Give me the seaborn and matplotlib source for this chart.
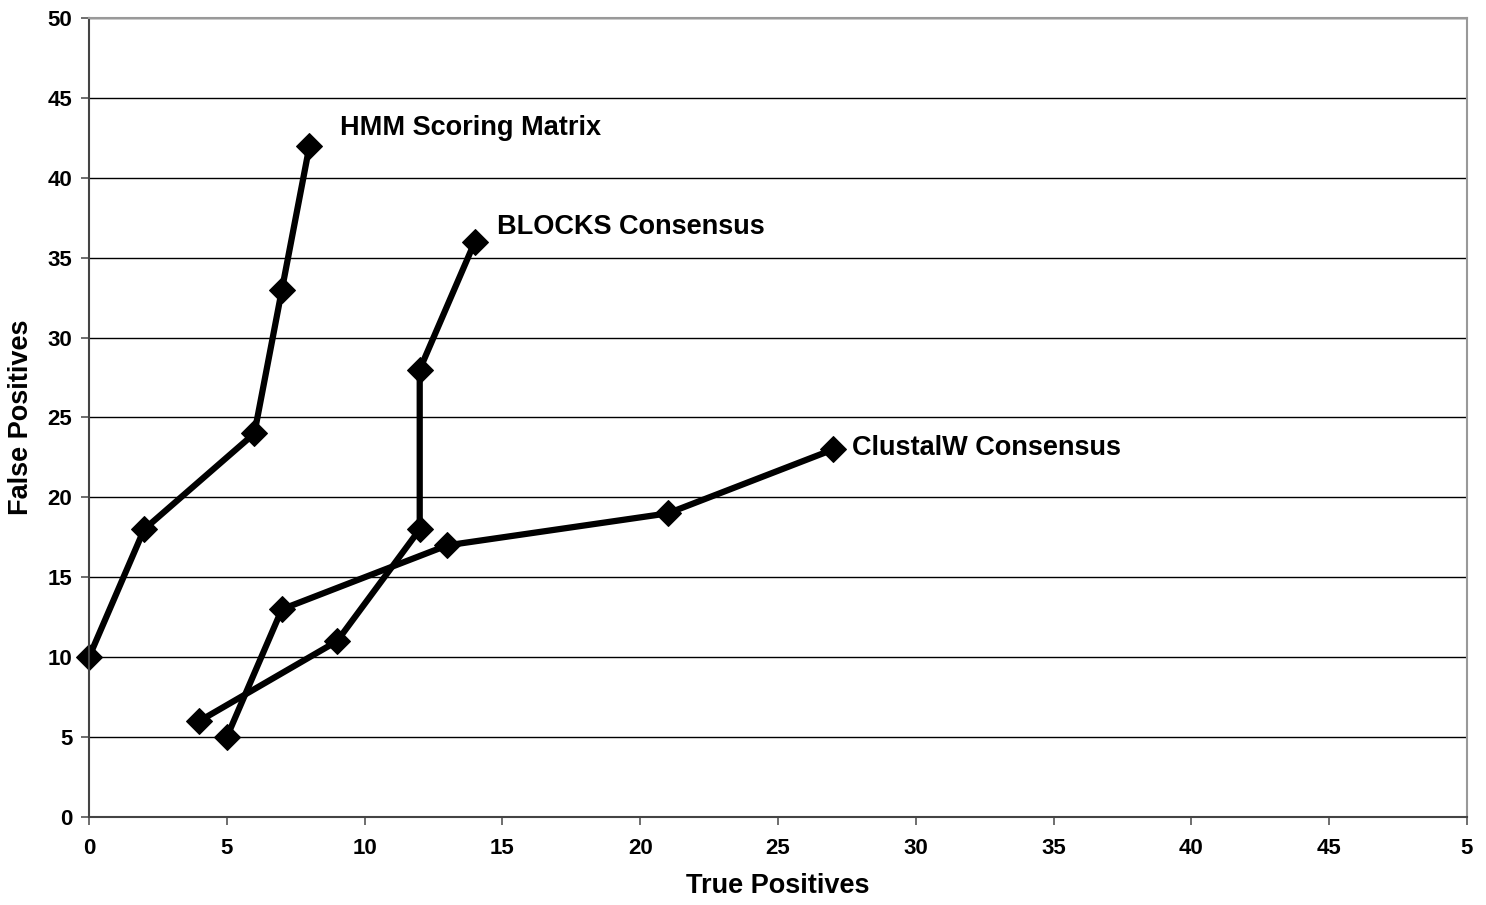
import matplotlib
matplotlib.use("Agg")
import matplotlib.pyplot as plt
import seaborn as sns
import pandas as pd

hmm_tp = [0, 2, 6, 7, 8]
hmm_fp = [10, 18, 24, 33, 42]
blocks_tp = [4, 9, 12, 12, 14]
blocks_fp = [6, 11, 18, 28, 36]
clustal_tp = [5, 7, 13, 21, 27]
clustal_fp = [5, 13, 17, 19, 23]

series_names = ["HMM Scoring Matrix", "BLOCKS Consensus", "ClustalW Consensus"]
label_pos = [(9.1, 43.1), (14.8, 36.9), (27.7, 23.1)]

x_ticks = [0, 5, 10, 15, 20, 25, 30, 35, 40, 45, 50]
x_ticklabels = ["0", "5", "10", "15", "20", "25", "30", "35", "40", "45", "5"]
y_ticks = [0, 5, 10, 15, 20, 25, 30, 35, 40, 45, 50]

sns.set_theme(style="white")
plt.rcParams['font.family'] = ['Liberation Sans', 'DejaVu Sans']
plt.rcParams['font.weight'] = 'bold'
plt.rcParams['text.color'] = 'black'
plt.rcParams['axes.labelcolor'] = 'black'
plt.rcParams['xtick.color'] = 'black'
plt.rcParams['ytick.color'] = 'black'

fig = plt.figure(figsize=(14.86, 9.05), dpi=100)
ax = fig.add_axes([89/1486, 1 - 817/905, (1467-89)/1486, (817-18)/905])

data = [(hmm_tp, hmm_fp), (blocks_tp, blocks_fp), (clustal_tp, clustal_fp)]
for name, (tp, fp) in zip(series_names, data):
    df = pd.DataFrame({"tp": tp, "fp": fp})
    sns.lineplot(data=df, x="tp", y="fp", ax=ax, sort=False, estimator=None,
                 color="black", linewidth=4.5, marker="D", markersize=13,
                 markeredgecolor="black", clip_on=False)

for name, (lx, ly) in zip(series_names, label_pos):
    ax.text(lx, ly, name, fontsize=19.5, fontweight="bold", va="center", ha="left",
            color="black")

ax.set_xlim(0, 50)
ax.set_ylim(0, 50)
ax.set_xticks(x_ticks)
ax.set_xticklabels(x_ticklabels)
ax.set_yticks(y_ticks)
ax.tick_params(axis="both", labelsize=16, direction="out", length=6, width=1.2,
               color="#555555", labelcolor="black", bottom=True, left=True)
ax.tick_params(axis="x", pad=9)
ax.tick_params(axis="y", pad=6)
for lab in ax.get_xticklabels() + ax.get_yticklabels():
    lab.set_fontweight("bold")

ax.yaxis.grid(True, color="black", linewidth=1)
ax.xaxis.grid(False)
ax.set_axisbelow(True)

for side in ["top", "right"]:
    ax.spines[side].set_color("#999999")
    ax.spines[side].set_linewidth(1.5)
for side in ["left", "bottom"]:
    ax.spines[side].set_color("#444444")
    ax.spines[side].set_linewidth(1.5)

ax.set_xlabel("True Positives", fontsize=19.5, fontweight="bold", labelpad=10,
              color="black")
ax.set_ylabel("False Positives", fontsize=19.5, fontweight="bold", labelpad=10,
              color="black")

fig.savefig("out.png", dpi=100)
